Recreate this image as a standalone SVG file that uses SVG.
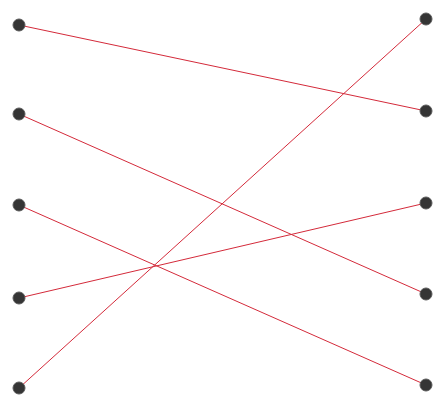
<svg xmlns="http://www.w3.org/2000/svg" width="433" height="398" viewBox="0 0 433 398">
<style>
.e{stroke:#d42a3a;stroke-width:1;fill:none}
.d{fill:#353535;stroke:#5a5a5a;stroke-width:1}
</style>
<rect width="433" height="398" fill="#ffffff"/>
<g id="connectors">
<line class="e" x1="19" y1="25" x2="426" y2="111"/>
<line class="e" x1="19" y1="114" x2="426" y2="294"/>
<line class="e" x1="19" y1="205" x2="426" y2="385"/>
<line class="e" x1="19" y1="298" x2="426" y2="203"/>
<line class="e" x1="19" y1="388" x2="426" y2="19"/>
</g>
<g id="L1"><circle class="d" cx="19" cy="25" r="6"/></g>
<g id="L2"><circle class="d" cx="19" cy="114" r="6"/></g>
<g id="L3"><circle class="d" cx="19" cy="205" r="6"/></g>
<g id="L4"><circle class="d" cx="19" cy="298" r="6"/></g>
<g id="L5"><circle class="d" cx="19" cy="388" r="6"/></g>
<g id="R1"><circle class="d" cx="426" cy="19" r="6"/></g>
<g id="R2"><circle class="d" cx="426" cy="111" r="6"/></g>
<g id="R3"><circle class="d" cx="426" cy="203" r="6"/></g>
<g id="R4"><circle class="d" cx="426" cy="294" r="6"/></g>
<g id="R5"><circle class="d" cx="426" cy="385" r="6"/></g>
</svg>
